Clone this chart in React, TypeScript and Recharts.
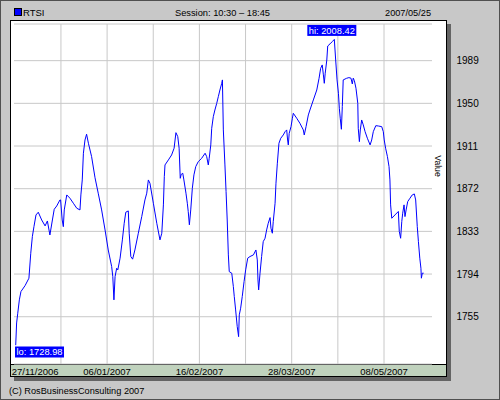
import React from 'react';
import { LineChart, Line, XAxis, YAxis, CartesianGrid, ReferenceLine, ReferenceDot } from 'recharts';

// days since 27/11/2006
const days = [
  0.4, 0.8, 1.3, 2.0, 2.7, 4.5, 6.2, 7.0, 7.7, 8.4, 9.3, 10.3, 11.8, 13.3, 14.3, 15.4, 16.5, 17.3, 18.4, 19.8,
  20.1, 20.8, 21.3, 21.7, 22.8, 24.2, 25.7, 27.2, 28.6, 29.0, 29.6, 30.1, 30.8, 31.5, 32.3, 33.7, 35.2, 36.6, 38.1, 39.6,
  41.0, 42.5, 43.0, 43.5, 44.0, 44.7, 45.2, 46.2, 47.2, 48.0, 48.7, 49.8, 50.2, 50.9, 51.7, 52.7, 54.2, 55.7, 57.1, 57.9,
  58.6, 59.3, 60.8, 62.3, 63.7, 64.5, 65.2, 65.6, 65.9, 67.4, 68.8, 69.9, 70.7, 71.5, 72.1, 72.6, 73.0, 73.7, 74.2, 75.1,
  75.7, 76.1, 76.6, 77.2, 77.9, 78.6, 79.4, 80.5, 82.0, 83.5, 84.2, 84.9, 85.3, 86.0, 86.4, 87.1, 87.8, 88.6, 89.3, 90.0,
  90.8, 91.1, 91.5, 92.2, 92.7, 93.2, 93.7, 94.1, 95.2, 95.9, 96.3, 96.9, 97.6, 98.2, 98.5, 99.1, 99.8, 100.6, 101.3, 102.2,
  103.2, 104.7, 105.8, 106.4, 106.7, 107.0, 107.6, 108.3, 109.0, 109.8, 110.5, 111.2, 112.0, 112.4, 113.0, 113.4, 114.2, 114.6, 115.2, 115.9,
  116.7, 117.8, 118.6, 119.3, 119.7, 120.0, 120.4, 121.2, 121.8, 122.2, 123.7, 125.1, 126.6, 127.0, 127.8, 128.8, 129.5, 131.0, 132.5, 133.5,
  134.2, 134.9, 135.4, 135.8, 136.2, 136.9, 137.3, 138.3, 139.3, 140.2, 140.8, 141.4, 142.0, 142.4, 142.8, 143.3, 143.7, 144.1, 145.6, 146.6,
  147.5, 148.1, 148.5, 149.0, 149.7, 150.5, 150.7, 151.2, 151.6, 152.2, 152.9, 153.7, 154.7, 155.9, 156.6, 157.3, 158.4, 159.5, 161.0, 161.7,
  162.1, 162.7, 163.5, 164.2, 164.6, 164.9, 165.4, 166.8, 168.3, 168.7, 169.3, 169.8, 170.2, 170.8, 171.2, 171.7, 172.4, 173.4, 174.4, 175.3,
  175.9, 176.6, 177.1, 177.7, 178.2, 178.4, 178.8, 179.4,
];

const rtsi = [
  1728.98, 1749.3, 1758.2, 1770.4, 1778.0, 1783.4, 1790.2, 1813.0, 1828.2, 1837.3, 1848.0, 1850.5, 1843.4, 1838.0, 1842.5, 1829.7, 1843.4, 1853.2, 1856.2, 1861.7,
  1861.7, 1843.4, 1837.3, 1852.6, 1866.3, 1863.3, 1858.7, 1854.1, 1852.6, 1866.3, 1880.0, 1904.4, 1916.5, 1921.8, 1913.5, 1901.3, 1882.0, 1867.9, 1852.6, 1834.3,
  1816.0, 1800.8, 1791.6, 1770.4, 1791.6, 1799.3, 1797.8, 1808.5, 1825.2, 1840.4, 1850.5, 1851.7, 1831.3, 1810.0, 1807.6, 1816.0, 1831.3, 1846.5, 1861.7, 1867.9,
  1880.0, 1877.0, 1858.7, 1840.4, 1825.2, 1831.3, 1857.2, 1883.0, 1893.7, 1898.3, 1902.8, 1909.0, 1923.2, 1919.6, 1909.0, 1881.5, 1885.0, 1886.1, 1880.0, 1867.9,
  1858.7, 1851.2, 1839.0, 1852.6, 1872.4, 1884.6, 1892.2, 1896.7, 1899.8, 1904.4, 1901.3, 1893.7, 1899.8, 1912.0, 1927.2, 1937.8, 1943.9, 1950.0, 1956.1, 1962.2,
  1968.3, 1971.4, 1925.7, 1893.7, 1869.3, 1843.4, 1811.5, 1796.2, 1794.8, 1782.5, 1773.4, 1761.2, 1746.0, 1736.8, 1756.7, 1762.8, 1773.4, 1787.1, 1797.8, 1808.5,
  1810.0, 1811.5, 1816.0, 1806.9, 1788.6, 1779.5, 1794.8, 1810.0, 1823.6, 1826.7, 1834.3, 1840.4, 1845.6, 1835.9, 1831.3, 1841.9, 1858.7, 1877.0, 1895.3, 1913.5,
  1918.1, 1921.1, 1924.1, 1925.7, 1916.5, 1912.0, 1922.6, 1928.7, 1936.4, 1940.9, 1936.4, 1931.8, 1925.7, 1921.1, 1928.7, 1939.4, 1943.9, 1953.1, 1962.2, 1972.9,
  1982.0, 1985.1, 1976.0, 1968.3, 1977.5, 1989.6, 2002.4, 2004.3, 2006.4, 2008.42, 1989.6, 1971.4, 1959.2, 1945.5, 1936.4, 1926.3, 1947.0, 1971.4, 1972.9, 1973.5,
  1973.0, 1967.7, 1973.0, 1970.7, 1963.8, 1950.0, 1927.2, 1915.0, 1925.7, 1934.8, 1930.3, 1924.1, 1918.1, 1912.0, 1916.5, 1924.1, 1929.6, 1929.3, 1928.7, 1924.1,
  1916.5, 1909.0, 1901.3, 1892.2, 1880.0, 1857.2, 1845.0, 1848.0, 1851.2, 1833.0, 1826.7, 1841.9, 1849.6, 1857.2, 1846.5, 1852.6, 1860.2, 1863.3, 1866.3, 1867.2,
  1861.7, 1837.3, 1823.6, 1808.5, 1799.3, 1790.2, 1794.8, 1794.8,
];

const yTicks = [1755, 1794, 1833, 1872, 1911, 1950, 1989];
const gridDays = [20.25, 40.5, 60.75, 81, 101.25, 121.5, 141.75, 162];
const labelDays = [0, 40.5, 81, 121.5, 162];
const dateLabels = ['27/11/2006', '06/01/2007', '16/02/2007', '28/03/2007', '08/05/2007'];
const seriesName = 'RTSI';
const sessionText = 'Session: 10:30 \u2013 18:45';
const dateText = '2007/05/25';
const footerText = '(C) RosBusinessConsulting 2007';
const yTitle = 'Value';

const data = days.map((d, i) => ({ day: d, value: rtsi[i] }));
let hiIdx = 0;
let loIdx = 0;
rtsi.forEach((v, i) => {
  if (v > rtsi[hiIdx]) hiIdx = i;
  if (v < rtsi[loIdx]) loIdx = i;
});

const FONT = '"Liberation Sans", Arial, sans-serif';
const BLUE = '#0000ff';
const GRID = '#c8c8c8';

const XTick = (props: any) => {
  const { x, y, payload, index } = props;
  const first = index === 0;
  return (
    <text
      x={first ? x - 3 : x}
      y={y + 11}
      textAnchor={first ? 'start' : 'middle'}
      fontSize={9.5}
      fontFamily={FONT}
      fill="#000"
    >
      {dateLabels[labelDays.indexOf(payload.value)]}
    </text>
  );
};

const Tag = ({ cx, cy, text, above }: any) => {
  const w = 49;
  const h = 11;
  const bx = above ? cx - 27 : cx - 0.7;
  const by = above ? cy - 14.5 : cy + 1.3;
  return (
    <g>
      <rect x={bx} y={by} width={w} height={h} fill={BLUE} />
      <text x={bx + w / 2} y={by + 9} textAnchor="middle" fontSize={9.3} fontFamily={FONT} fill="#fff">
        {text}
      </text>
    </g>
  );
};

export default function App() {
  return (
    <div
      style={{
        position: 'fixed',
        left: 0,
        top: 0,
        width: 500,
        height: 400,
        background: '#c8c8c8',
        overflow: 'hidden',
      }}
    >
      <svg width={500} height={400} style={{ position: 'absolute', left: 0, top: 0 }}>
        <rect x={0.5} y={0.5} width={499} height={399} fill="none" stroke="#505050" />
        <rect x={14} y={24} width={437} height={357} fill="#646464" />
        <rect x={10.5} y={20.5} width={436} height={356} fill="#fff" stroke="#000" />
        <rect x={11} y={364.5} width={435} height={11.5} fill="#c0d2bd" />
        <line x1={11} x2={446} y1={364.5} y2={364.5} stroke="#000" />
        <rect x={14.5} y={8.5} width={7} height={7} fill={BLUE} stroke="#000" />
        <text x={23} y={15.5} fontSize={9.5} fontFamily={FONT} fill="#000">{seriesName}</text>
        <text x={222.5} y={15.5} textAnchor="middle" fontSize={9.3} fontFamily={FONT} fill="#000">{sessionText}</text>
        <text x={431} y={15.5} textAnchor="end" fontSize={9.2} fontFamily={FONT} fill="#000">{dateText}</text>
        <text x={9} y={394} fontSize={9.2} fontFamily={FONT} fill="#000">{footerText}</text>
        <text
          transform="translate(434.5,166) rotate(90)"
          textAnchor="middle"
          fontSize={8.6}
          fontFamily={FONT}
          fill="#000"
        >
          {yTitle}
        </text>
      </svg>
      <div style={{ position: 'absolute', left: 0, top: 0 }}>
        <LineChart width={500} height={400} data={data} margin={{ top: 24, right: 0, bottom: 24, left: 14 }}>
          <CartesianGrid vertical={false} stroke={GRID} />
          {gridDays.map((d) => (
            <ReferenceLine key={d} x={d} stroke={GRID} />
          ))}
          <XAxis
            dataKey="day"
            type="number"
            domain={[-0.35, 183.06]}
            ticks={labelDays}
            interval={0}
            height={12}
            tickSize={0}
            tickMargin={0}
            axisLine={false}
            tickLine={false}
            tick={<XTick />}
            allowDataOverflow
          />
          <YAxis
            orientation="right"
            type="number"
            domain={[1711.8, 2022.5]}
            ticks={yTicks}
            interval={0}
            width={68}
            tickSize={0}
            tickMargin={24.5}
            axisLine={false}
            tickLine={false}
            tick={{ fill: '#000', fontSize: 10, fontFamily: '"Liberation Sans Narrow", "Liberation Sans", sans-serif' }}
            allowDataOverflow
          />
          <Line
            type="linear"
            dataKey="value"
            stroke={BLUE}
            strokeWidth={1}
            dot={false}
            isAnimationActive={false}
          />
          <ReferenceDot
            x={days[hiIdx]}
            y={rtsi[hiIdx]}
            r={0}
            shape={(p: any) => <Tag cx={p.cx} cy={p.cy} above text={`hi: ${rtsi[hiIdx].toFixed(2)}`} />}
          />
          <ReferenceDot
            x={days[loIdx]}
            y={rtsi[loIdx]}
            r={0}
            shape={(p: any) => <Tag cx={p.cx} cy={p.cy} text={`lo: ${rtsi[loIdx].toFixed(2)}`} />}
          />
        </LineChart>
      </div>
    </div>
  );
}
